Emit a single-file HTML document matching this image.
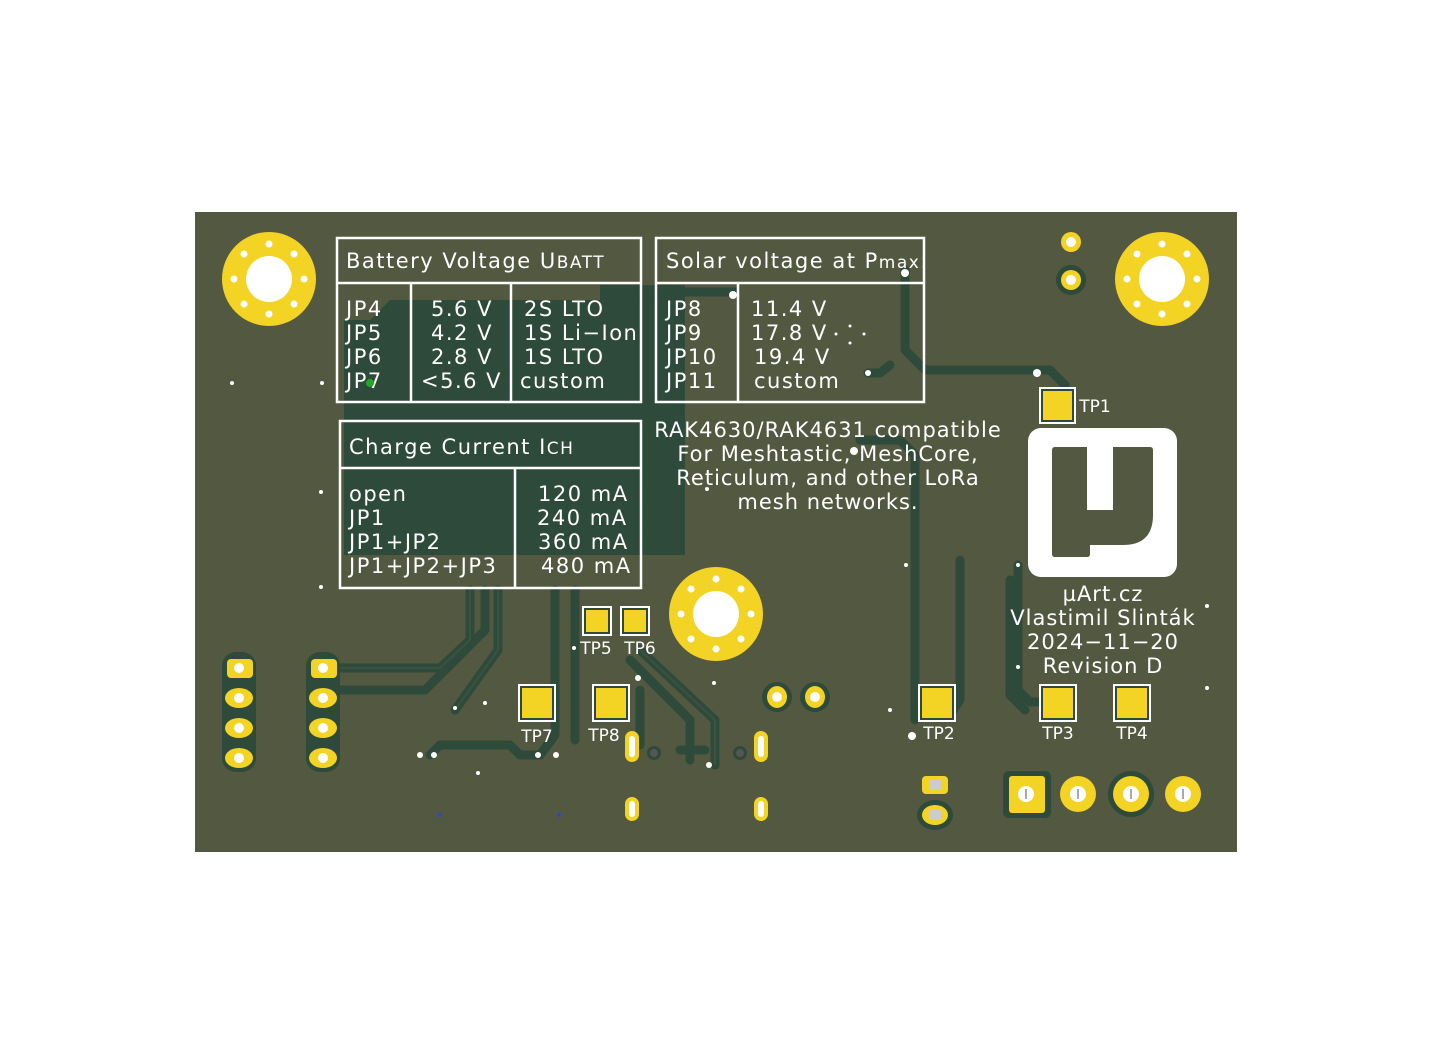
<!DOCTYPE html>
<html><head><meta charset="utf-8"><style>
html,body{margin:0;padding:0;background:#fff;}
svg{display:block;}
text{font-family:"DejaVu Sans","Liberation Sans",sans-serif;fill:#fff;}
</style></head><body>
<svg width="1432" height="1064" viewBox="0 0 1432 1064" xmlns="http://www.w3.org/2000/svg">
<rect x="195" y="212" width="1042" height="640" fill="#535841"/>
<path d="M344,335 V555 H685 V300 H390 L370,320 H344 Z" fill="#2d4a3a"/>
<rect x="600" y="285" width="85" height="20" fill="#2d4a3a"/>
<g fill="none" stroke="#2d4a3a" stroke-width="9" stroke-linejoin="round" stroke-linecap="round">
<path d="M640,292 H735"/>
<path d="M905,270 V350 L925,370 H1050 L1065,385"/>
<path d="M868,373 H880 L890,365"/>
<path d="M860,440 H900 L915,455 V720"/>
<path d="M960,560 V700 L950,715 H915"/>
<path d="M1018,565 V690 L1030,702 H1045"/>
<path d="M1010,580 V695 L1025,710"/>
<path d="M340,668 H440 L470,640 V590"/>
<path d="M340,690 H425 L485,630 V590"/>
<path d="M455,710 L498,650 V590"/>
<path d="M430,755 L440,745 H510 L520,755 H540 L555,735 V590"/>
<path d="M575,740 V590"/>
<path d="M630,660 L690,720 V760"/>
<path d="M640,650 L715,720 V765"/>
<path d="M680,750 H705"/>
<path d="M640,745 V690"/>
</g>
<g fill="none" stroke="#3c5240" stroke-width="2">
<path d="M340,668 H440 L470,640 V590"/>
<path d="M455,710 L498,650 V590"/>
<path d="M640,650 L715,720 V765"/>
</g>
<g>
<circle cx="269" cy="279" r="47" fill="#f3d324"/><circle cx="269" cy="279" r="23" fill="#fff"/>
<circle cx="1162" cy="279" r="47" fill="#f3d324"/><circle cx="1162" cy="279" r="23" fill="#fff"/>
<circle cx="716" cy="614" r="47" fill="#f3d324"/><circle cx="716" cy="614" r="23" fill="#fff"/>
</g>
<g fill="#fff">
<circle cx="269" cy="244" r="3.5"/><circle cx="269" cy="314" r="3.5"/><circle cx="234" cy="279" r="3.5"/><circle cx="304" cy="279" r="3.5"/>
<circle cx="244" cy="254" r="3.5"/><circle cx="294" cy="254" r="3.5"/><circle cx="244" cy="304" r="3.5"/><circle cx="294" cy="304" r="3.5"/>
<circle cx="1162" cy="244" r="3.5"/><circle cx="1162" cy="314" r="3.5"/><circle cx="1127" cy="279" r="3.5"/><circle cx="1197" cy="279" r="3.5"/>
<circle cx="1137" cy="254" r="3.5"/><circle cx="1187" cy="254" r="3.5"/><circle cx="1137" cy="304" r="3.5"/><circle cx="1187" cy="304" r="3.5"/>
<circle cx="716" cy="579" r="3.5"/><circle cx="716" cy="649" r="3.5"/><circle cx="681" cy="614" r="3.5"/><circle cx="751" cy="614" r="3.5"/>
<circle cx="691" cy="589" r="3.5"/><circle cx="741" cy="589" r="3.5"/><circle cx="691" cy="639" r="3.5"/><circle cx="741" cy="639" r="3.5"/>
</g>
<circle cx="1071" cy="242" r="10" fill="#f3d324"/><circle cx="1071" cy="242" r="5" fill="#fff"/>
<circle cx="1071" cy="280" r="15" fill="#2d4a3a"/><circle cx="1071" cy="280" r="10" fill="#f3d324"/><circle cx="1071" cy="280" r="5" fill="#fff"/>
<g fill="none" stroke="#fff" stroke-width="2.5">
<rect x="337" y="238" width="304" height="164"/><line x1="337" y1="283" x2="641" y2="283"/><line x1="411" y1="283" x2="411" y2="402"/><line x1="511" y1="283" x2="511" y2="402"/>
<rect x="656" y="238" width="268" height="164"/><line x1="656" y1="283" x2="924" y2="283"/><line x1="738" y1="283" x2="738" y2="402"/>
<rect x="340" y="421" width="301" height="167"/><line x1="340" y1="468" x2="641" y2="468"/><line x1="515" y1="468" x2="515" y2="588"/>
</g>
<g font-size="21" letter-spacing="1.5">
<text x="346" y="268">Battery Voltage U<tspan font-size="17">BATT</tspan></text>
<text x="346" y="316">JP4</text><text x="346" y="340">JP5</text><text x="346" y="364">JP6</text><text x="346" y="388">JP7</text>
<text x="431" y="316">5.6 V</text><text x="431" y="340">4.2 V</text><text x="431" y="364">2.8 V</text><text x="421" y="388">&lt;5.6 V</text>
<text x="524" y="316">2S LTO</text><text x="524" y="340">1S Li−Ion</text><text x="524" y="364">1S LTO</text><text x="520" y="388">custom</text>
<text x="666" y="268">Solar voltage at P<tspan font-size="17">max</tspan>:</text>
<text x="666" y="316">JP8</text><text x="666" y="340">JP9</text><text x="666" y="364">JP10</text><text x="666" y="388">JP11</text>
<text x="751" y="316">11.4 V</text><text x="751" y="340">17.8 V</text><text x="754" y="364">19.4 V</text><text x="754" y="388">custom</text>
<text x="349" y="454">Charge Current I<tspan font-size="17">CH</tspan></text>
<text x="349" y="501">open</text><text x="349" y="525">JP1</text><text x="349" y="549">JP1+JP2</text><text x="349" y="573">JP1+JP2+JP3</text>
<text x="538" y="501">120 mA</text><text x="537" y="525">240 mA</text><text x="538" y="549">360 mA</text><text x="541" y="573">480 mA</text>
</g>
<g font-size="21" letter-spacing="1.0" text-anchor="middle">
<text x="828" y="437">RAK4630/RAK4631 compatible</text>
<text x="828" y="461">For Meshtastic, MeshCore,</text>
<text x="828" y="485">Reticulum, and other LoRa</text>
<text x="828" y="509">mesh networks.</text>
<text x="1103" y="601">µArt.cz</text>
<text x="1103" y="625">Vlastimil Slinták</text>
<text x="1103" y="649">2024−11−20</text>
<text x="1103" y="673">Revision D</text>
</g>
<rect x="1028" y="428" width="149" height="149" rx="13" fill="#fff"/>
<path d="M1055,447 H1087 V510 H1113 V447 H1150 Q1153,447 1153,450 V515 Q1153,545 1123,545 H1090 V554 Q1090,557 1087,557 H1055 Q1052,557 1052,554 V450 Q1052,447 1055,447 Z" fill="#535841"/>
<g>
<rect x="1039" y="387" width="37" height="37" fill="#fff"/><rect x="1041" y="389" width="33" height="33" fill="#2d4a3a"/><rect x="1043" y="391" width="29" height="29" fill="#f3d324"/>
<rect x="582" y="606" width="30" height="30" fill="#fff"/><rect x="584" y="608" width="26" height="26" fill="#2d4a3a"/><rect x="586" y="610" width="22" height="22" fill="#f3d324"/>
<rect x="620" y="606" width="30" height="30" fill="#fff"/><rect x="622" y="608" width="26" height="26" fill="#2d4a3a"/><rect x="624" y="610" width="22" height="22" fill="#f3d324"/>
<rect x="518" y="684" width="38" height="38" fill="#fff"/><rect x="520" y="686" width="34" height="34" fill="#2d4a3a"/><rect x="522" y="688" width="30" height="30" fill="#f3d324"/>
<rect x="592" y="684" width="38" height="38" fill="#fff"/><rect x="594" y="686" width="34" height="34" fill="#2d4a3a"/><rect x="596" y="688" width="30" height="30" fill="#f3d324"/>
<rect x="918" y="684" width="38" height="38" fill="#fff"/><rect x="920" y="686" width="34" height="34" fill="#2d4a3a"/><rect x="922" y="688" width="30" height="30" fill="#f3d324"/>
<rect x="1039" y="684" width="38" height="38" fill="#fff"/><rect x="1041" y="686" width="34" height="34" fill="#2d4a3a"/><rect x="1043" y="688" width="30" height="30" fill="#f3d324"/>
<rect x="1113" y="684" width="38" height="38" fill="#fff"/><rect x="1115" y="686" width="34" height="34" fill="#2d4a3a"/><rect x="1117" y="688" width="30" height="30" fill="#f3d324"/>
</g>
<g font-size="17" text-anchor="middle">
<text x="1095" y="412">TP1</text>
<text x="596" y="654">TP5</text><text x="640" y="654">TP6</text>
<text x="537" y="742">TP7</text><text x="604" y="741">TP8</text>
<text x="939" y="739">TP2</text><text x="1058" y="739">TP3</text><text x="1132" y="739">TP4</text>
</g>
<g>
<rect x="222" y="652" width="34" height="120" rx="14" fill="#2d4a3a"/>
<rect x="306" y="652" width="34" height="120" rx="14" fill="#2d4a3a"/>
<rect x="227" y="659" width="26" height="19" rx="4" fill="#f3d324"/>
<rect x="311" y="659" width="26" height="19" rx="4" fill="#f3d324"/>
<ellipse cx="239" cy="698" rx="14" ry="10" fill="#f3d324"/><ellipse cx="239" cy="728" rx="14" ry="10" fill="#f3d324"/><ellipse cx="239" cy="758" rx="14" ry="10" fill="#f3d324"/>
<ellipse cx="323" cy="698" rx="14" ry="10" fill="#f3d324"/><ellipse cx="323" cy="728" rx="14" ry="10" fill="#f3d324"/><ellipse cx="323" cy="758" rx="14" ry="10" fill="#f3d324"/>
<g fill="#fff"><circle cx="239" cy="668" r="5"/><circle cx="239" cy="698" r="5"/><circle cx="239" cy="728" r="5"/><circle cx="239" cy="758" r="5"/>
<circle cx="323" cy="668" r="5"/><circle cx="323" cy="698" r="5"/><circle cx="323" cy="728" r="5"/><circle cx="323" cy="758" r="5"/></g>
</g>
<circle cx="777" cy="697" r="15" fill="#2d4a3a"/><ellipse cx="777" cy="697" rx="10" ry="11" fill="#f3d324"/><circle cx="777" cy="697" r="5" fill="#fff"/>
<circle cx="815" cy="697" r="15" fill="#2d4a3a"/><ellipse cx="815" cy="697" rx="10" ry="11" fill="#f3d324"/><circle cx="815" cy="697" r="5" fill="#fff"/>
<g>
<rect x="625" y="731" width="14" height="31" rx="7" fill="#f3d324"/><rect x="629" y="736" width="6" height="21" rx="3" fill="#fff"/>
<rect x="754" y="731" width="14" height="31" rx="7" fill="#f3d324"/><rect x="758" y="736" width="6" height="21" rx="3" fill="#fff"/>
<rect x="625" y="797" width="14" height="24" rx="7" fill="#f3d324"/><rect x="629" y="801" width="6" height="16" rx="3" fill="#fff"/>
<rect x="754" y="797" width="14" height="24" rx="7" fill="#f3d324"/><rect x="758" y="801" width="6" height="16" rx="3" fill="#fff"/>
<circle cx="654" cy="753" r="7" fill="#2d4a3a"/><circle cx="654" cy="753" r="4" fill="#555"/>
<circle cx="740" cy="753" r="7" fill="#2d4a3a"/><circle cx="740" cy="753" r="4" fill="#555"/>
</g>
<rect x="922" y="776" width="26" height="18" rx="4" fill="#f3d324"/><rect x="929" y="780" width="12" height="10" fill="#ccc"/>
<ellipse cx="935" cy="815" rx="18" ry="15" fill="#2d4a3a"/><ellipse cx="935" cy="815" rx="13" ry="10" fill="#f3d324"/><rect x="929" y="810" width="12" height="10" fill="#ccc"/>
<rect x="1003" y="771" width="48" height="47" rx="6" fill="#2d4a3a"/><rect x="1009" y="776" width="36" height="37" rx="3" fill="#f3d324"/>
<circle cx="1078" cy="794" r="18" fill="#f3d324"/>
<circle cx="1131" cy="794" r="23" fill="#2d4a3a"/><circle cx="1131" cy="794" r="18" fill="#f3d324"/>
<circle cx="1183" cy="794" r="18" fill="#f3d324"/>
<g fill="#fff"><circle cx="1026" cy="794" r="8"/><circle cx="1078" cy="794" r="8"/><circle cx="1131" cy="794" r="8"/><circle cx="1183" cy="794" r="8"/></g>
<g fill="#aaa"><rect x="1025" y="789" width="2" height="10"/><rect x="1077" y="789" width="2" height="10"/><rect x="1130" y="789" width="2" height="10"/><rect x="1182" y="789" width="2" height="10"/></g>
<g fill="#fff">
<circle cx="232" cy="383" r="2"/><circle cx="322" cy="383" r="2"/><circle cx="321" cy="492" r="2"/><circle cx="321" cy="587" r="2"/>
<circle cx="733" cy="295" r="4"/><circle cx="905" cy="273" r="4"/><circle cx="868" cy="373" r="3"/><circle cx="1037" cy="373" r="4"/>
<circle cx="854" cy="451" r="4"/><circle cx="707" cy="489" r="2"/><circle cx="906" cy="565" r="2"/><circle cx="1018" cy="565" r="2"/>
<circle cx="1207" cy="606" r="2"/><circle cx="1207" cy="688" r="2"/><circle cx="1018" cy="667" r="2"/><circle cx="890" cy="710" r="2"/>
<circle cx="912" cy="736" r="4"/><circle cx="714" cy="683" r="2"/><circle cx="574" cy="648" r="2"/><circle cx="485" cy="703" r="2"/>
<circle cx="455" cy="708" r="2"/><circle cx="420" cy="755" r="3"/><circle cx="434" cy="755" r="3"/><circle cx="538" cy="755" r="3"/>
<circle cx="556" cy="755" r="3"/><circle cx="478" cy="773" r="2"/><circle cx="709" cy="765" r="3"/><circle cx="638" cy="678" r="3"/>
<circle cx="850" cy="326" r="1.5"/><circle cx="850" cy="343" r="1.5"/><circle cx="836" cy="334" r="1.5"/><circle cx="864" cy="334" r="1.5"/>
</g>
<circle cx="370" cy="383" r="4" fill="#22a822"/>
<circle cx="440" cy="815" r="2" fill="#3344cc"/><circle cx="559" cy="815" r="2" fill="#3344cc"/>
</svg>
</body></html>
